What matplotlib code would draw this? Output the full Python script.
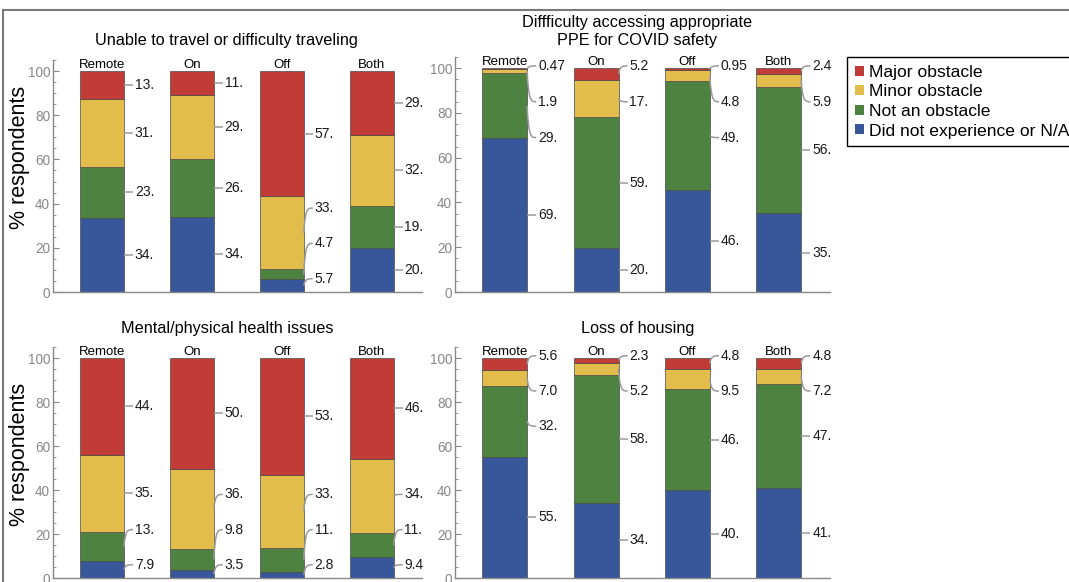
"""
Obstacles faced by respondents, split by work location (Remote / On / Off / Both).
Four stacked-bar panels with callout labels, plus one shared legend.
"""
import numpy as np
import matplotlib
matplotlib.use("Agg")
import matplotlib.pyplot as plt
from matplotlib.lines import Line2D
from matplotlib.patches import Patch, PathPatch
from matplotlib.path import Path
from matplotlib.ticker import MultipleLocator

plt.rcParams["font.family"] = ["Liberation Sans", "DejaVu Sans"]

categories = ["Remote", "On", "Off", "Both"]
series = ["Did not experience or N/A", "Not an obstacle", "Minor obstacle", "Major obstacle"]
colors = ["#37579a", "#4e8240", "#e2bd4c", "#c13b37"]

travel_none = [34, 34, 5.7, 20]
travel_not = [23, 26, 4.7, 19]
travel_minor = [31, 29, 33, 32]
travel_major = [13, 11, 57, 29]

ppe_none = [69, 20, 46, 35]
ppe_not = [29, 59, 49, 56]
ppe_minor = [1.9, 17, 4.8, 5.9]
ppe_major = [0.47, 5.2, 0.95, 2.4]

health_none = [7.9, 3.5, 2.8, 9.4]
health_not = [13, 9.8, 11, 11]
health_minor = [35, 36, 33, 34]
health_major = [44, 50, 53, 46]

housing_none = [55, 34, 40, 41]
housing_not = [32, 58, 46, 47]
housing_minor = [7.0, 5.2, 9.5, 7.2]
housing_major = [5.6, 2.3, 4.8, 4.8]

titles = ["Unable to travel or difficulty traveling",
          "Diffficulty accessing appropriate\nPPE for COVID safety",
          "Mental/physical health issues",
          "Loss of housing"]

W, H = 1069, 582
BAR_W = 0.49
LEAD = 0.1
LEAD_COLOR = "#9a9a9a"


def fmt(v):
    # Mathematica-ish 2 significant digits ("13." style)
    if v >= 10:
        return f"{v:.0f}."
    if v >= 1:
        return f"{v:.1f}"
    return f"{v:.2f}"


def spread(mids, gap=16, lo=6, hi=101):
    ys = list(mids)
    for i in range(len(ys)):
        low = lo if i == 0 else ys[i - 1] + gap
        ys[i] = max(ys[i], low)
    for i in range(len(ys) - 1, -1, -1):
        high = hi if i == len(ys) - 1 else ys[i + 1] - gap
        ys[i] = min(ys[i], high)
    return ys


def draw_panel(ax, stacks):
    vals = np.array(stacks, dtype=float)
    pct = vals / vals.sum(axis=0) * 100
    bottoms = np.vstack([np.zeros(vals.shape[1]), np.cumsum(pct, axis=0)[:-1]])
    x = np.arange(len(categories))

    for i in range(len(series)):
        ax.bar(x, pct[i], bottom=bottoms[i], width=BAR_W, color=colors[i],
               edgecolor="#4a4a4a", linewidth=0.5, zorder=2)

    for j, cat in enumerate(categories):
        ax.text(j, 101.5, cat, ha="center", va="baseline", fontsize=9.5)
        mids = bottoms[:, j] + pct[:, j] / 2
        labs = spread(mids)
        x0 = j + BAR_W / 2
        for i in range(len(series)):
            ym, yl = mids[i], labs[i]
            if abs(yl - ym) < 0.5:
                ax.plot([x0, x0 + LEAD], [ym, ym], color=LEAD_COLOR, lw=1.1,
                        solid_capstyle="butt", zorder=3)
            else:
                verts = [(x0, ym), (x0 + 0.15 * LEAD, yl), (x0 + 0.45 * LEAD, yl),
                         (x0 + LEAD, yl)]
                codes = [Path.MOVETO, Path.CURVE4, Path.CURVE4, Path.CURVE4]
                ax.add_patch(PathPatch(Path(verts, codes), fill=False,
                                       edgecolor=LEAD_COLOR, lw=1.1, zorder=3))
            ax.text(x0 + LEAD + 0.02, yl, fmt(vals[i, j]), ha="left",
                    va="center", fontsize=10, color="#1a1a1a")

    ax.set_xlim(-0.545, 3.56)
    ax.set_ylim(0, 105)
    ax.set_xticks([])
    ax.yaxis.set_major_locator(MultipleLocator(20))
    ax.yaxis.set_minor_locator(MultipleLocator(5))
    ax.tick_params(axis="y", which="major", direction="in", length=4,
                   color="#888888", labelcolor="#888888", labelsize=9.8, pad=2)
    ax.tick_params(axis="y", which="minor", direction="in", length=2,
                   color="#888888")
    for side in ["top", "right"]:
        ax.spines[side].set_visible(False)
    for side in ["left", "bottom"]:
        ax.spines[side].set_color("#888888")
        ax.spines[side].set_linewidth(1.0)


def main():
    fig = plt.figure(figsize=(W / 100, H / 100), dpi=100)

    # pixel boxes: (left, x right, y of 0, y of top)
    boxes = [(53, 422, 292, 60), (455, 830, 292, 57),
             (53, 422, 578, 347), (455, 830, 578, 347)]
    panels = [
        [travel_none, travel_not, travel_minor, travel_major],
        [ppe_none, ppe_not, ppe_minor, ppe_major],
        [health_none, health_not, health_minor, health_major],
        [housing_none, housing_not, housing_minor, housing_major],
    ]
    for (l, r, b, t), stacks in zip(boxes, panels):
        ax = fig.add_axes([l / W, 1 - b / H, (r - l) / W, (b - t) / H])
        draw_panel(ax, stacks)

    # titles
    fig.text(226 / W, 1 - 40 / H, titles[0], ha="center", va="center", fontsize=11.7)
    fig.text(637 / W, 1 - 31 / H, titles[1], ha="center", va="center",
             fontsize=11.7, linespacing=1.25)
    fig.text(227 / W, 1 - 328 / H, titles[2], ha="center", va="center", fontsize=11.7)
    fig.text(638 / W, 1 - 328 / H, titles[3], ha="center", va="center", fontsize=11.7)

    for ypx in [157, 454]:
        fig.text(20 / W, 1 - ypx / H, "% respondents", rotation=90,
                 ha="center", va="center", fontsize=15.5)

    handles = [Patch(facecolor=colors[i], edgecolor="none", label=series[i])
               for i in range(len(series) - 1, -1, -1)]
    fig.legend(handles=handles, loc="upper left",
               bbox_to_anchor=(847 / W, 1 - 57 / H), borderaxespad=0,
               fontsize=12.6, frameon=True, fancybox=False, edgecolor="black",
               framealpha=1, handlelength=0.5, handleheight=0.5,
               handletextpad=0.3, labelspacing=0.26, borderpad=0.45)
    fig.legends[0].get_frame().set_linewidth(1.0)

    # outer frame of the original figure (top and left edges)
    fig.add_artist(Line2D([3 / W, 3 / W], [0, 1 - 10 / H], color="#7a7a7a",
                          lw=1.5, transform=fig.transFigure))
    fig.add_artist(Line2D([3 / W, 1], [1 - 10 / H, 1 - 10 / H], color="#7a7a7a",
                          lw=1.5, transform=fig.transFigure))

    fig.savefig("out.png", dpi=100)


if __name__ == "__main__":
    main()
